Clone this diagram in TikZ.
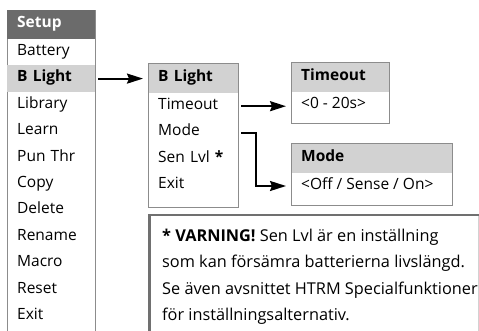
\documentclass[tikz,border=0pt]{standalone}
\usepackage{fontspec}
\setmainfont{Open Sans}
\usetikzlibrary{arrows.meta,positioning}
\definecolor{MorkGra}{HTML}{6B6B6B}
\definecolor{LjusGra}{HTML}{D2D2D2}
\definecolor{KantGra}{HTML}{8C8C8C}
\definecolor{NotGra}{HTML}{707070}
\newcommand{\menytext}{\fontsize{15.5}{18}\selectfont}

\begin{document}
\begin{tikzpicture}[
  x=1pt,y=-1pt,
  every node/.style={font=\menytext},
  row/.style={anchor=west,align=left,text width=#1,inner xsep=10pt,inner ysep=0pt,
    minimum height=26.4pt,text height=11pt,text depth=4.5pt},
  head/.style={row=#1,minimum height=30pt,fill=LjusGra,font=\menytext\bfseries},
  value/.style={anchor=west,inner xsep=10pt,inner ysep=0pt,minimum height=20pt,
    text height=11pt,text depth=4.5pt},
  frame/.style={draw=KantGra,line width=0.9pt},
  pil/.style={-{Stealth[length=16pt,width=10pt,inset=2pt]},line width=2pt,
    shorten <=3pt,shorten >=5pt}
]
  \useasboundingbox (0,0) rectangle (479,331);

  % Huvudmeny Setup.
  \draw[frame] (7,331) -- (7,10) -- (95,10) -- (95,331);
  \node[head=68pt,fill=MorkGra,text=white,minimum height=29pt] (setup) at (7,24.5) {Setup};
  \node[row=68pt] (battery) at (7,52.2) {Battery};
  \node[row=68pt,fill=LjusGra,font=\menytext\bfseries] (blight) at (7,78.6) {B Light};
  \node[row=68pt] (library) at (7,105) {Library};
  \node[row=68pt] (learn) at (7,131.4) {Learn};
  \node[row=68pt] (punthr) at (7,157.8) {Pun Thr};
  \node[row=68pt] (copy) at (7,184.2) {Copy};
  \node[row=68pt] (delete) at (7,210.6) {Delete};
  \node[row=68pt] (rename) at (7,237) {Rename};
  \node[row=68pt] (macro) at (7,263.4) {Macro};
  \node[row=68pt] (reset) at (7,289.8) {Reset};
  \node[row=68pt] (exitA) at (7,316.2) {Exit};

  % Undermeny B Light.
  \node[head=70pt] (blhead) at (148,78) {B Light};
  \node[row=70pt] (timeout) at (148,106.2) {Timeout};
  \node[row=70pt] (mode) at (148,132.6) {Mode};
  \node[row=70pt] (senlvl) at (148,159) {Sen Lvl \textbf{*}};
  \node[row=70pt] (exitB) at (148,185.4) {Exit};
  \draw[frame] (148,63) rectangle (238,207);

  % Inställningar.
  \node[head=78pt] (tohead) at (291,77) {Timeout};
  \node[value] (toval) at (291,105.5) {<0 - 20s>};
  \draw[frame] (291,62) rectangle (389,123);
  \node[head=141pt] (modehead) at (291,158) {Mode};
  \node[value] (modeval) at (291,186) {<Off / Sense / On>};
  \draw[frame] (291,143) rectangle (452,205);

  \draw[pil] (blight.east) -- (blight.east -| blhead.west);
  \draw[pil] (timeout.east) -- (timeout.east -| toval.west);
  \draw[pil] (mode.east) -- ++(18,0) |- (modeval.west);

  % Varningsruta.
  \draw[draw=NotGra,line width=2.5pt] (149.25,331) |- (479,215.25);
  \draw[draw=LjusGra,line width=0.9pt] (478,216) -- (478,331);
  \node[anchor=north west,align=left,inner sep=0pt,font=\fontsize{16.3}{26.4}\selectfont]
    (varning) at (162,229) {\textbf{* VARNING!} Sen Lvl är en inställning\\
    som kan försämra batterierna livslängd.\\
    Se även avsnittet HTRM Specialfunktioner\\
    för inställningsalternativ.};
\end{tikzpicture}
\end{document}
